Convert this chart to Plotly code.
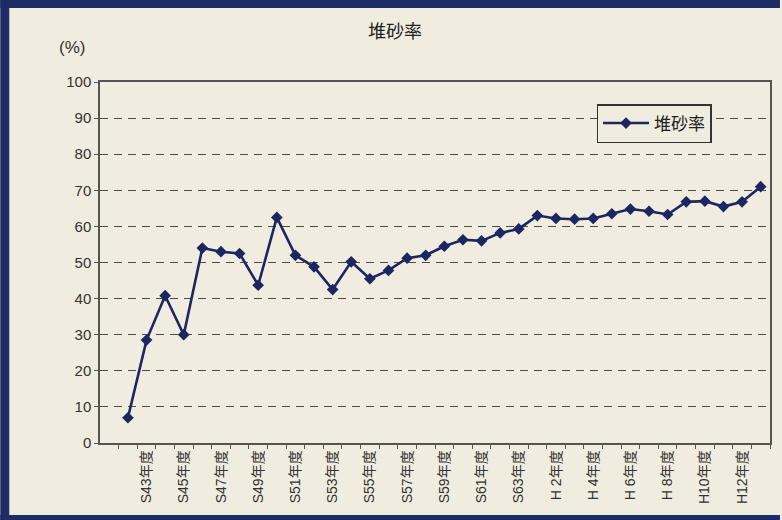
import plotly.graph_objects as go

# ---- data ----
categories = ["S42年度", "S43年度", "S44年度", "S45年度", "S46年度", "S47年度", "S48年度",
              "S49年度", "S50年度", "S51年度", "S52年度", "S53年度", "S54年度", "S55年度",
              "S56年度", "S57年度", "S58年度", "S59年度", "S60年度", "S61年度", "S62年度",
              "S63年度", "H 1年度", "H 2年度", "H 3年度", "H 4年度", "H 5年度", "H 6年度",
              "H 7年度", "H 8年度", "H 9年度", "H10年度", "H11年度", "H12年度", "H13年度"]
sediment_rate = [7, 28.5, 40.8, 30, 54, 53, 52.5, 43.7, 62.5, 52, 48.8, 42.5, 50.2, 45.5,
                 47.8, 51.2, 52, 54.5, 56.3, 56, 58.2, 59.3, 63, 62.2, 62, 62.2, 63.5, 64.8,
                 64.2, 63.3, 66.8, 67, 65.5, 66.8, 71]
tick_labels = [c if i % 2 == 1 else "" for i, c in enumerate(categories)]
series_name = "堆砂率"
title_text = "堆砂率"
y_unit = "(%)"

W, H = 782, 520
L, R, T, B = 100, 10, 82, 77
PW, PH = W - L - R, H - T - B

def px_x(p):
    return (p - L) / PW

def px_y(p):
    return (H - B - p) / PH

NAVY = "#1c2660"
CREAM = "#f0ecdf"
FRAME = "#1e2c66"
FONT = "Liberation Sans, Noto Sans CJK JP, sans-serif"

fig = go.Figure()
fig.add_trace(go.Scatter(
    x=categories, y=sediment_rate, name=series_name, mode="lines+markers",
    line=dict(color=NAVY, width=2.6),
    marker=dict(symbol="diamond", size=9, color=NAVY),
))

fig.update_layout(
    width=W, height=H,
    margin=dict(l=L, r=R, t=T, b=B),
    paper_bgcolor=CREAM, plot_bgcolor=CREAM,
    font=dict(family=FONT, color="#333333"),
    showlegend=True,
    legend=dict(x=px_x(598), y=px_y(104), xanchor="left", yanchor="top",
                bgcolor=CREAM, bordercolor="#333333", borderwidth=1.5,
                font=dict(size=17, color="#222222"), itemwidth=46,
                tracegroupgap=0),
    xaxis=dict(type="category", categoryorder="array", categoryarray=categories,
               range=[-1.5, len(categories) - 0.5],
               tickmode="array", tickvals=categories, ticktext=tick_labels,
               tickangle=-90, tickson="boundaries", ticks="outside", ticklen=4,
               tickcolor="#555555", showgrid=False,
               showline=True, linecolor="#555555", linewidth=1.5, mirror=True,
               tickfont=dict(size=14, color="#333333")),
    yaxis=dict(range=[0, 100], dtick=10, tick0=0, ticks="outside", ticklen=4,
               tickcolor="#555555",
               showgrid=True, gridcolor="#4a4a4a", gridwidth=1.3, griddash="8px,6px",
               showline=True, linecolor="#555555", linewidth=1.5, mirror=True,
               zeroline=False, tickfont=dict(size=15, color="#333333")),
    title=dict(text=title_text, x=0.505, xanchor="center", y=1 - 32 / H, yanchor="middle",
               font=dict(size=18, color="#222222")),
    annotations=[dict(text=y_unit, xref="paper", yref="paper", x=px_x(72), y=px_y(47),
                      xanchor="center", yanchor="middle", showarrow=False,
                      font=dict(size=17, color="#333333"))],
    shapes=[
        dict(type="rect", xref="paper", yref="paper", x0=px_x(0), x1=px_x(W), y0=px_y(0), y1=px_y(8),
             fillcolor=FRAME, line=dict(width=0), layer="above"),
        dict(type="rect", xref="paper", yref="paper", x0=px_x(0), x1=px_x(9), y0=px_y(0), y1=px_y(H),
             fillcolor=FRAME, line=dict(width=0), layer="above"),
        dict(type="rect", xref="paper", yref="paper", x0=px_x(0), x1=px_x(W), y0=px_y(515), y1=px_y(H),
             fillcolor=FRAME, line=dict(width=0), layer="above"),
    ],
)

fig.write_html("out.html", config={"displayModeBar": False},
               post_script="document.body.style.margin='0px';")
